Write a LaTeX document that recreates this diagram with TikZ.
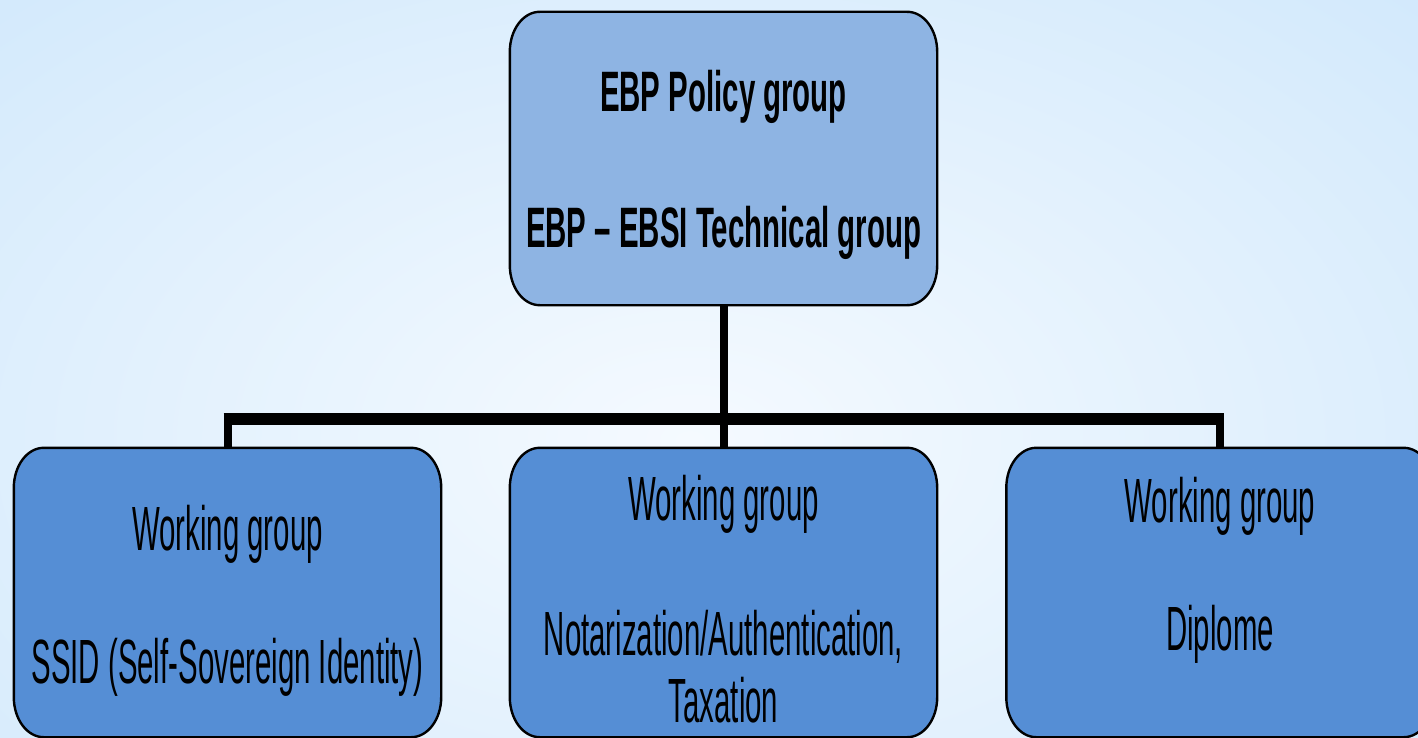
\documentclass[tikz,border=0pt]{standalone}
\usepackage{fontspec}
\newfontfamily\regfont[FakeStretch=0.47]{Liberation Sans}
\newfontfamily\boldfont[FakeStretch=0.516]{Liberation Sans}
\definecolor{bgin}{HTML}{F5FAFF}
\definecolor{bgout}{HTML}{C4E2FA}
\definecolor{topfill}{HTML}{8EB4E3}
\definecolor{wgfill}{HTML}{558ED5}
\tikzset{
  box/.style={draw=none, inner sep=0pt, minimum width=427pt},
  topbox/.style={box, minimum height=293pt},
  wgbox/.style={box, minimum height=289pt},
  outline/.style={draw=black, line width=2.4pt},
  regtxt/.style={anchor=base, inner sep=0pt, font=\regfont\fontsize{62.5}{75}\selectfont},
  bldtxt/.style={anchor=base, inner sep=0pt, font=\boldfont\bfseries\fontsize{57}{68}\selectfont},
  vline/.style={draw=black, line width=8pt},
  hline/.style={draw=black, line width=12pt}
}
% rounded box with elliptical corners (30 wide, 40 high)
\newcommand\ovalbox[2]{%
  \path[outline, fill=#2]
    ([xshift=30pt]#1.north west) -- ([xshift=-30pt]#1.north east)
    .. controls ([xshift=-13.4pt]#1.north east) and ([yshift=-17.9pt]#1.north east) .. ([yshift=-40pt]#1.north east)
    -- ([yshift=40pt]#1.south east)
    .. controls ([yshift=17.9pt]#1.south east) and ([xshift=-13.4pt]#1.south east) .. ([xshift=-30pt]#1.south east)
    -- ([xshift=30pt]#1.south west)
    .. controls ([xshift=13.4pt]#1.south west) and ([yshift=17.9pt]#1.south west) .. ([yshift=40pt]#1.south west)
    -- ([yshift=-40pt]#1.north west)
    .. controls ([yshift=-17.9pt]#1.north west) and ([xshift=13.4pt]#1.north west) .. ([xshift=30pt]#1.north west)
    -- cycle;}
\begin{document}
\begin{tikzpicture}[x=1pt, y=-1pt]
\useasboundingbox (0,0) rectangle (1418,738);
\clip (0,0) rectangle (1418,738);
\shade[inner color=bgin, outer color=bgout] (690,440) ellipse [x radius=1450, y radius=900];
% boxes
\node[topbox] (top) at (723.5,158.5) {};
\node[wgbox] (left) at (227.5,592.5) {};
\node[wgbox] (mid) at (723.5,592.5) {};
\node[wgbox] (right) at (1220,592.5) {};
\ovalbox{top}{topfill}
\ovalbox{left}{wgfill}
\ovalbox{mid}{wgfill}
\ovalbox{right}{wgfill}
% junction coordinates
\coordinate (jl) at (227.5,419);
\coordinate (jr) at (1220,419);
\coordinate (jle) at (223.5,419);
\coordinate (jre) at (1224,419);
% connectors
\draw[vline] (top.south) -- (mid.north);
\draw[hline] (jle) -- (jre);
\draw[vline] (jl) -- (left.north);
\draw[vline] (jr) -- (right.north);
% texts
\node[bldtxt] (t1) at (723.5,112) {EBP Policy group};
\node[bldtxt] (t2) at (723.5,247) {EBP – EBSI Technical group};
\node[regtxt] (l1) at (227.5,550) {Working group};
\node[regtxt] (l2) at (227.5,683) {SSID (Self-Sovereign Identity)};
\node[regtxt] (m1) at (723.5,520) {Working group};
\node[regtxt] (m2) at (723.5,655) {Notarization/Authentication,};
\node[regtxt] (m3) at (723.5,722) {Taxation};
\node[regtxt] (r1) at (1220,522) {Working group};
\node[regtxt] (r2) at (1220,650) {Diplome};
\end{tikzpicture}
\end{document}
